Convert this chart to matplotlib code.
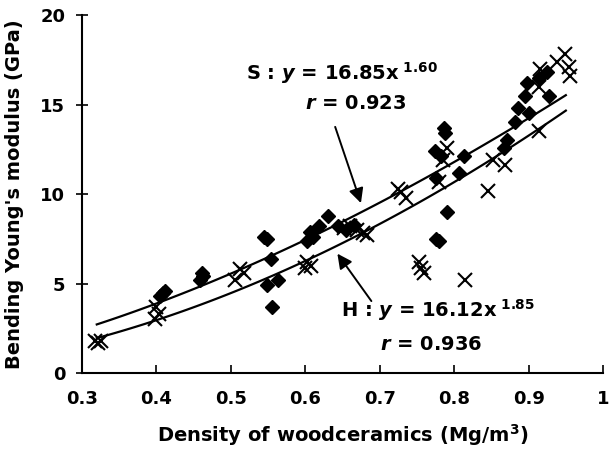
import numpy as np
import matplotlib
matplotlib.use('Agg')
import matplotlib.pyplot as plt

plt.rcParams['font.family'] = ['DejaVu Sans']
plt.rcParams['font.weight'] = 'bold'
plt.rcParams['mathtext.fontset'] = 'custom'
plt.rcParams['mathtext.rm'] = 'DejaVu Sans:bold'
plt.rcParams['mathtext.it'] = 'DejaVu Sans:italic:bold'

# S series (filled diamonds)
s_density = [0.405, 0.409, 0.412, 0.459, 0.462, 0.463,
             0.544, 0.548, 0.554, 0.549, 0.563, 0.556,
             0.603, 0.607, 0.610, 0.619, 0.630, 0.644, 0.655, 0.665,
             0.774, 0.776, 0.783, 0.787, 0.788, 0.780, 0.776, 0.790,
             0.806, 0.813, 0.867, 0.871, 0.882, 0.886, 0.895, 0.898,
             0.900, 0.914, 0.925, 0.927]
s_modulus = [4.3, 4.5, 4.6, 5.2, 5.6, 5.4,
             7.6, 7.5, 6.4, 4.9, 5.2, 3.7,
             7.4, 7.9, 7.6, 8.2, 8.8, 8.2, 8.0, 8.3,
             12.4, 10.9, 12.1, 13.7, 13.4, 7.4, 7.5, 9.0,
             11.2, 12.1, 12.6, 13.0, 14.0, 14.8, 15.5, 16.2,
             14.5, 16.5, 16.8, 15.5]

# H series (crosses)
h_density = [0.318, 0.322, 0.326, 0.398, 0.403, 0.400,
             0.506, 0.513, 0.518, 0.600, 0.603, 0.608,
             0.652, 0.660, 0.670, 0.678, 0.683,
             0.725, 0.729, 0.735, 0.753, 0.756, 0.760,
             0.779, 0.785, 0.790, 0.815,
             0.846, 0.852, 0.868, 0.914, 0.914, 0.915,
             0.938, 0.949, 0.954, 0.955]
h_modulus = [1.8, 1.7, 1.8, 3.0, 3.3, 3.7,
             5.2, 5.8, 5.6, 5.9, 6.2, 6.0,
             8.1, 8.2, 8.0, 7.8, 7.7,
             10.3, 10.1, 9.8, 6.2, 5.9, 5.6,
             10.7, 11.9, 12.6, 5.2,
             10.2, 11.9, 11.6, 13.5, 16.0, 17.0,
             17.4, 17.8, 17.1, 16.6]

# fitted power laws shown in the chart
s_coef, s_exp = 16.85, 1.60
h_coef, h_exp = 16.12, 1.85

fig = plt.figure(figsize=(6.11, 4.54), dpi=100)
ax = fig.add_axes([0.134, 0.178, 0.853, 0.789])

ax.plot(s_density, s_modulus, 'D', color='black', markersize=7, zorder=3)
ax.plot(h_density, h_modulus, 'x', color='black', markersize=10, markeredgewidth=1.5, zorder=3)

xfit = np.linspace(0.32, 0.95, 100)
ax.plot(xfit, s_coef * xfit ** s_exp, color='black', lw=1.6)
ax.plot(xfit, h_coef * xfit ** h_exp, color='black', lw=1.6)

ax.text(0.52, 16.75, r'S : $\mathit{y}$ = 16.85x$^{\ 1.60}$', fontsize=14, va='center')
ax.text(0.60, 15.05, r'$\mathit{r}$ = 0.923', fontsize=14, va='center')
ax.annotate('', xy=(0.676, 9.35), xytext=(0.639, 13.9),
            arrowprops=dict(arrowstyle='-|>', color='black', lw=1.4, mutation_scale=22))

ax.text(0.648, 3.5, r'H : $\mathit{y}$ = 16.12x$^{\ 1.85}$', fontsize=14, va='center')
ax.text(0.70, 1.6, r'$\mathit{r}$ = 0.936', fontsize=14, va='center')
ax.annotate('', xy=(0.641, 6.8), xytext=(0.691, 3.9),
            arrowprops=dict(arrowstyle='-|>', color='black', lw=1.4, mutation_scale=22))

ax.set_xlim(0.3, 1.0)
ax.set_ylim(0, 20)
ax.set_xticks([0.3, 0.4, 0.5, 0.6, 0.7, 0.8, 0.9, 1.0])
ax.set_xticklabels(['0.3', '0.4', '0.5', '0.6', '0.7', '0.8', '0.9', '1'])
ax.set_yticks([0, 5, 10, 15, 20])
ax.spines['top'].set_visible(False)
ax.spines['right'].set_visible(False)
ax.spines['left'].set_linewidth(1.5)
ax.spines['bottom'].set_linewidth(1.5)
ax.tick_params(axis='x', direction='in', length=6, width=1.2, labelsize=13, pad=12)
ax.tick_params(axis='y', direction='inout', length=8, width=1.2, labelsize=13, pad=8)

ax.set_xlabel('Density of woodceramics (Mg/m$^3$)', fontsize=14, fontweight='bold', labelpad=10)
ax.set_ylabel("Bending Young's modulus (GPa)", fontsize=14, fontweight='bold', labelpad=12)

fig.savefig('out.png', dpi=100)
